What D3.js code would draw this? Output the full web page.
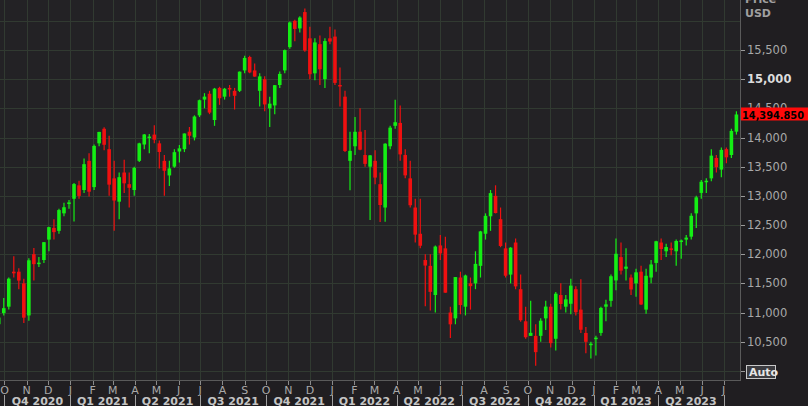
<!DOCTYPE html>
<html><head><meta charset="utf-8">
<script src="https://cdn.jsdelivr.net/npm/d3@7"></script>
<style>
html,body{margin:0;padding:0;background:#201e21;}
svg{display:block;}
text{font-family:"DejaVu Sans",Verdana,sans-serif;}
</style></head>
<body>
<script>
// Weekly candles (week starting Monday), Nasdaq Composite style levels
const firstWeek = "2020-09-21";
const opens = [10800,10990,11100,11700,11700,11500,10950,12000,11850,11900,12250,12450,12400,12700,12860,
12950,13180,13100,13600,13150,13900,14150,13800,13300,12900,13400,13200,13100,13600,13880,14000,14050,13900,13600,13350,13500,13760,13800,14100,14000,14380,14650,14750,14300,14850,14700,14850,14800,14800,15150,15380,15150,14800,15000,14500,14550,14900,15150,15550,16000,15870,16150,15700,15100,15600,15000,15700,
15730,14900,14700,13600,13850,14100,13700,13500,13600,13200,12800,13850,14200,14250,13700,13300,12800,12350,11900,11800,11300,12150,12100,11000,10900,11600,11100,11500,11500,11800,12350,12650,13000,12600,12100,11650,12200,11400,10850,10600,10600,10600,10900,11100,10550,11300,11100,11150,11400,11050,10650,10450,
10550,10650,11100,11200,11550,11950,11750,11600,11500,11700,11050,11600,11850,12200,12050,12100,12050,12210,12250,12300,12700,13050,13250,13300,13650,13450,13800,13700,14100];
const highs = [10950,11250,11600,11965,11760,11580,11930,12108,11950,12210,12470,12600,12780,12880,12930,
13220,13260,13640,13730,13880,14100,14175,14030,13600,13400,13620,13400,13500,13910,14060,14060,14210,13950,13700,13600,13800,13870,14070,14180,14380,14650,14760,14800,14850,14870,14850,14900,14850,15130,15400,15403,15270,15100,15050,14700,14900,15130,15510,15990,16020,16080,16212,15900,15700,15750,15700,15900,
15850,15200,14800,14100,14350,14500,14130,13700,13780,13400,13900,14200,14646,14550,13800,13600,12950,12950,12000,12000,12150,12330,12300,11100,11610,11700,11650,11600,12050,12400,12700,13100,13181,12800,12200,12120,12270,11650,11100,11200,10800,10900,11200,11150,11350,11500,11300,11580,11450,11570,10750,10500,
10600,11100,11220,11650,12270,12200,12100,11650,11750,11800,11750,11900,12230,12270,12180,12200,12250,12250,12330,12700,13000,13270,13300,13800,13700,13830,13830,14150,14450];
const lows = [10520,10950,11050,11600,11400,10822,10860,11550,11780,11850,12050,12250,12350,12650,12780,
12560,12950,13050,12990,13100,13850,13780,13000,12400,12600,13050,12800,13000,13580,13800,13730,13900,13470,13000,13170,13480,13570,13750,13880,13950,14350,14500,14400,14200,14560,14650,14700,14480,14780,15100,15100,15040,14530,14450,14180,14400,14850,15100,15520,15650,15800,15470,15000,14980,14900,14850,15600,
14900,14530,13750,13094,13700,13780,13500,12587,13200,12550,12555,13800,14150,13600,13300,12800,12200,12100,11108,11035,11000,11900,11340,10565,10800,10970,10950,11050,11400,11600,12250,12400,12700,12120,11600,11500,11400,10840,10550,10600,10088,10500,10700,10400,10350,11050,11000,10970,10950,10650,10300,10210,
10265,10600,10850,11100,11380,11650,11550,11300,11270,11130,10980,11500,11700,11900,11950,11980,11800,11920,12150,12250,12450,12950,13050,13250,13400,13320,13560,13650,14050];
const closes = [10914,11075,11580,11672,11548,10912,11895,11829,11855,12206,12464,12378,12756,12805,12888,
13202,12999,13543,13071,13856,14095,13875,13192,12920,13320,13215,13138,13480,13900,14052,14016,13962,13752,13430,13471,13749,13814,14069,14030,14360,14639,14701,14427,14837,14673,14836,14823,14715,15129,15364,15115,15044,15048,14567,14580,14897,15090,15498,15972,15861,16057,15491,15085,15630,15170,15653,15645,
14936,14894,13768,13771,14098,13791,13548,13694,13313,12843,13894,14169,14262,13711,13351,12839,12335,12145,11805,11354,12131,12013,11340,10798,11608,11128,11635,11452,11834,12391,12657,13047,12705,12141,11631,12112,11448,10868,10576,10652,10321,10860,11102,10475,11323,11146,11226,11461,11005,10705,10498,10466,
10569,11079,11140,11622,12007,11718,11787,11395,11689,11138,11630,11824,12222,12088,12123,12073,12226,12235,12284,12658,12975,13241,13259,13689,13492,13788,13660,14113,14394.85];
const priceTicks = [16000,15500,15000,14500,14000,13500,13000,12500,12000,11500,11000,10500,10000];
const tickLabels = ["","15,500","15,000","14,500","14,000","13,500","13,000","12,500","12,000","11,500","11,000","10,500",""];
const monthLetters = ["J","F","M","A","M","J","J","A","S","O","N","D"];
const quarterLabels = ["Q4 2020","Q1 2021","Q2 2021","Q3 2021","Q4 2021","Q1 2022","Q2 2022","Q3 2022","Q4 2022","Q1 2023","Q2 2023"];
const lastPrice = "14,394.850";

const W = 808, H = 406, PR = 740, PB = 380;
const svg = d3.select("body").append("svg").attr("width", W).attr("height", H);
svg.append("rect").attr("width", W).attr("height", H).attr("fill", "#201e21");
svg.append("rect").attr("width", PR).attr("height", PB).attr("fill", "#232225");

const x = d3.scaleUtc().domain([new Date(Date.UTC(2020,8,24,18)), new Date(Date.UTC(2023,6,24))]).range([0, PR]);
const y = d3.scaleLinear().domain([10500, 15500]).range([341.7, 50]);

const months = d3.utcMonth.range(new Date(Date.UTC(2020,9,1)), new Date(Date.UTC(2023,6,20)));
const grid = svg.append("g");
const gridColor = "#313a31";
grid.selectAll("line.v").data(months).join("line")
  .attr("x1", d => Math.round(x(d)) + 0.5).attr("x2", d => Math.round(x(d)) + 0.5)
  .attr("y1", 0).attr("y2", PB).attr("stroke", gridColor).attr("stroke-width", 1);
grid.selectAll("line.h").data(priceTicks).join("line")
  .attr("y1", d => Math.round(y(d)) + 0.5).attr("y2", d => Math.round(y(d)) + 0.5)
  .attr("x1", 0).attr("x2", PR).attr("stroke", gridColor).attr("stroke-width", 1);

// candles
const weeks = d3.utcMonday.range(new Date(firstWeek + "T00:00:00Z"), new Date("2023-07-20T00:00:00Z"));
const data = weeks.map((w, i) => ({t: d3.utcDay.offset(w, 2), o: opens[i], h: highs[i], l: lows[i], c: closes[i]}));
svg.append("clipPath").attr("id", "clip").append("rect").attr("width", PR).attr("height", PB);
const cg = svg.append("g").attr("clip-path", "url(#clip)");
const up = "#14ee14", dn = "#f01010";
const bw = 3.6;
cg.selectAll("line.wick").data(data).join("line")
  .attr("x1", d => x(d.t)).attr("x2", d => x(d.t))
  .attr("y1", d => y(d.h)).attr("y2", d => y(d.l))
  .attr("stroke", d => d.c >= d.o ? up : dn).attr("stroke-width", 1.2);
cg.selectAll("rect.body").data(data).join("rect")
  .attr("x", d => x(d.t) - bw/2).attr("width", bw)
  .attr("y", d => y(Math.max(d.o, d.c)))
  .attr("height", d => Math.max(1.5, Math.abs(y(d.o) - y(d.c))))
  .attr("fill", d => d.c >= d.o ? up : dn);

// axes lines
svg.append("line").attr("x1", PR + 0.5).attr("x2", PR + 0.5).attr("y1", 0).attr("y2", PB + 1).attr("stroke", "#5a5a5a");
svg.append("line").attr("x1", 0).attr("x2", PR + 1).attr("y1", PB + 0.5).attr("y2", PB + 0.5).attr("stroke", "#5a5a5a");

// right axis
const ra = svg.append("g");
ra.selectAll("line").data(priceTicks.slice(1, 12)).join("line")
  .attr("x1", PR + 1).attr("x2", PR + 5).attr("y1", d => Math.round(y(d)) + 0.5).attr("y2", d => Math.round(y(d)) + 0.5)
  .attr("stroke", "#9a9a9a");
ra.selectAll("text").data(priceTicks.map((d, i) => ({v: d, s: tickLabels[i]})).filter(d => d.s)).join("text")
  .attr("x", PR + 7).attr("y", d => y(d.v) + 4)
  .attr("font-size", 11.5).attr("fill", d => d.v === 15000 ? "#dcdcdc" : "#a9a9a9")
  .attr("font-weight", d => d.v === 15000 ? "bold" : "normal")
  .text(d => d.s);
svg.append("text").attr("x", 745).attr("y", 3).attr("font-size", 11).attr("font-weight", "bold").attr("fill", "#a0a0a0").text("Price");
svg.append("text").attr("x", 745).attr("y", 17).attr("font-size", 11).attr("font-weight", "bold").attr("fill", "#a0a0a0").text("USD");

// last price tag
const ly = y(closes[closes.length - 1]);
svg.append("rect").attr("x", PR + 1).attr("y", Math.round(ly) - 6.5).attr("width", W - PR - 1).attr("height", 13).attr("fill", "#ff0a0a");
svg.append("text").attr("x", PR + 2).attr("y", Math.round(ly) + 4.5).attr("font-size", 11).attr("font-weight", "bold").attr("fill", "#000")
  .attr("textLength", 62).attr("lengthAdjust", "spacingAndGlyphs").text(lastPrice);

// Auto box
const ay = Math.round(y(10000));
svg.append("line").attr("x1", PR + 1).attr("x2", PR + 5).attr("y1", ay + 0.5).attr("y2", ay + 0.5).attr("stroke", "#9a9a9a");
svg.append("rect").attr("x", 746.5).attr("y", ay - 5.5).attr("width", 29).attr("height", 13).attr("fill", "#3c3c40").attr("stroke", "#c8c8c8");
svg.append("text").attr("x", 749).attr("y", ay + 5).attr("font-size", 11).attr("font-weight", "bold").attr("fill", "#e6e6e6").text("Auto");

// bottom axis
const ba = svg.append("g");
ba.selectAll("line").data(months).join("line")
  .attr("x1", d => Math.round(x(d)) + 0.5).attr("x2", d => Math.round(x(d)) + 0.5)
  .attr("y1", PB + 1).attr("y2", PB + 5).attr("stroke", "#8a8a8a");
ba.selectAll("text").data(months).join("text")
  .attr("x", d => x(d)).attr("y", 393.5).attr("text-anchor", "middle")
  .attr("font-size", 11).attr("fill", "#a9a9a9")
  .text(d => monthLetters[d.getUTCMonth()]);
const quarters = d3.utcMonth.every(3).range(new Date(Date.UTC(2020,9,1)), new Date(Date.UTC(2023,6,2)));
const qa = svg.append("g");
qa.selectAll("line").data(quarters.concat([new Date(Date.UTC(2023,6,1))])).join("line")
  .attr("x1", d => Math.round(x(d)) + 0.5).attr("x2", d => Math.round(x(d)) + 0.5)
  .attr("y1", 395).attr("y2", H).attr("stroke", "#a0a0a0");
qa.selectAll("text").data(quarters).join("text")
  .attr("x", (d, i) => (x(d) + x(d3.utcMonth.offset(d, 3))) / 2).attr("y", 405)
  .attr("text-anchor", "middle").attr("font-size", 11).attr("font-weight", "bold").attr("fill", "#c4c4c4")
  .text((d, i) => quarterLabels[i]);
</script>
</body></html>
